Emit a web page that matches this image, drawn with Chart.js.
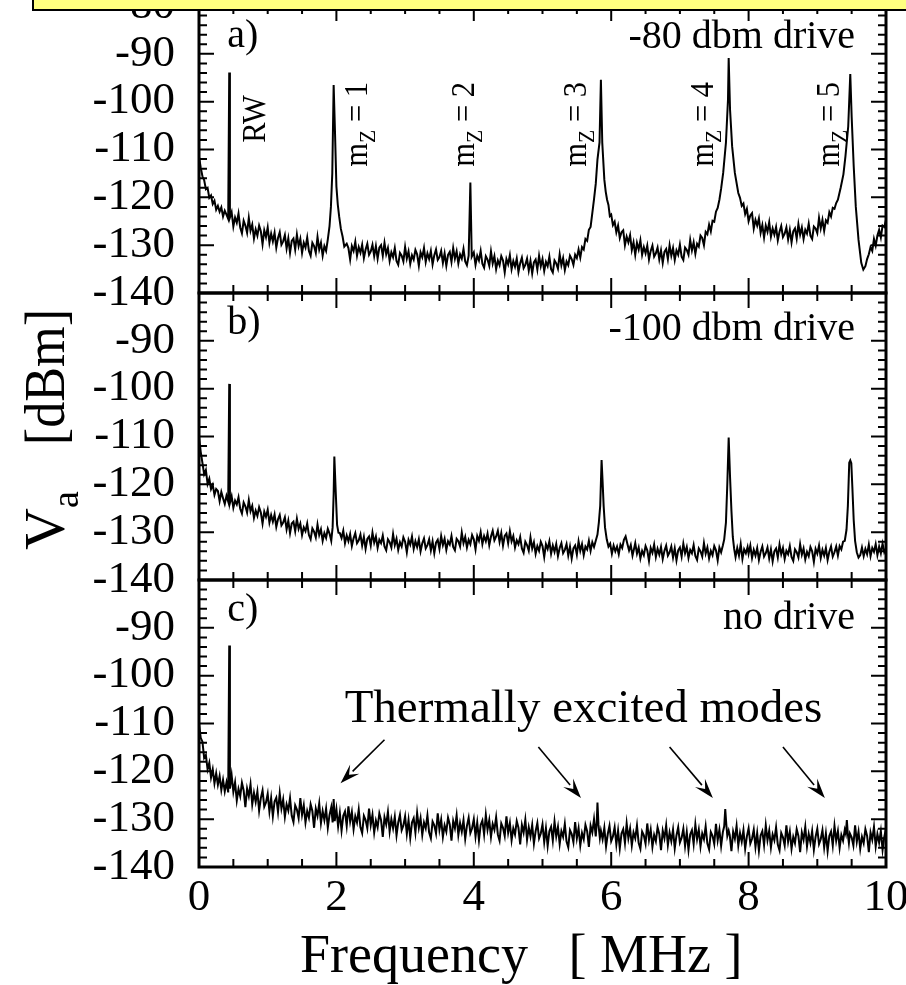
<!DOCTYPE html>
<html><head><meta charset="utf-8">
<script src="https://cdn.jsdelivr.net/npm/chart.js@4/dist/chart.umd.min.js"></script>
<style>
html,body{margin:0;padding:0;background:#fff;overflow:hidden;}
canvas{display:block;}
</style></head><body>
<canvas id="c" width="906" height="985"></canvas>
<script>
// ---------------- data (frequency MHz, level dBm) ----------------
const specA = [
[0.000,-111.5],[0.025,-113.8],[0.050,-115.6],[0.075,-116.4],[0.100,-118.3],[0.125,-118.0],[0.150,-120.1],[0.175,-119.6],
[0.200,-121.4],[0.225,-120.7],[0.250,-122.6],[0.275,-121.8],[0.300,-123.0],[0.325,-122.1],[0.350,-124.0],[0.375,-122.8],
[0.400,-123.6],[0.425,-124.5],[0.440,-93.9],[0.450,-124.2],[0.475,-123.1],[0.500,-126.1],[0.525,-124.2],[0.550,-125.3],
[0.575,-123.4],[0.600,-126.3],[0.625,-127.5],[0.650,-124.9],[0.675,-125.9],[0.700,-127.4],[0.725,-124.3],[0.750,-127.0],
[0.775,-125.7],[0.800,-128.6],[0.825,-126.7],[0.850,-128.0],[0.875,-125.9],[0.900,-127.1],[0.925,-129.8],[0.950,-126.9],
[0.975,-128.3],[1.000,-126.3],[1.025,-129.5],[1.050,-127.6],[1.075,-129.2],[1.100,-127.4],[1.125,-130.5],[1.150,-128.5],
[1.175,-127.3],[1.200,-129.9],[1.225,-129.2],[1.250,-127.9],[1.275,-130.7],[1.300,-128.6],[1.325,-131.6],[1.350,-129.1],
[1.375,-128.6],[1.400,-130.9],[1.425,-127.8],[1.450,-130.2],[1.475,-128.7],[1.500,-131.6],[1.525,-129.5],[1.550,-130.5],
[1.575,-128.4],[1.600,-131.2],[1.625,-132.2],[1.650,-129.5],[1.675,-130.2],[1.700,-131.6],[1.725,-128.3],[1.750,-130.9],
[1.775,-129.5],[1.800,-132.2],[1.825,-130.2],[1.850,-131.2],[1.875,-128.8],[1.900,-126.0],[1.920,-122.0],[1.940,-115.0],
[1.960,-96.5],[1.980,-106.6],[2.000,-117.7],[2.020,-121.5],[2.040,-124.0],[2.065,-126.6],[2.090,-128.2],[2.115,-130.3],
[2.150,-129.7],[2.175,-130.6],[2.200,-133.0],[2.225,-130.2],[2.250,-131.2],[2.275,-129.3],[2.300,-132.2],[2.325,-130.4],
[2.350,-131.6],[2.375,-129.9],[2.400,-132.7],[2.425,-130.9],[2.450,-129.7],[2.475,-132.0],[2.500,-131.3],[2.525,-129.9],
[2.550,-132.3],[2.575,-130.2],[2.600,-132.8],[2.625,-130.5],[2.650,-130.0],[2.675,-132.2],[2.700,-129.5],[2.725,-131.9],
[2.750,-130.6],[2.775,-133.3],[2.800,-131.5],[2.825,-132.5],[2.850,-130.6],[2.875,-133.3],[2.900,-134.1],[2.925,-131.6],
[2.950,-132.2],[2.975,-133.4],[3.000,-130.4],[3.025,-132.8],[3.050,-131.3],[3.075,-133.9],[3.100,-132.1],[3.125,-133.0],
[3.150,-131.0],[3.175,-131.9],[3.200,-134.3],[3.225,-131.5],[3.250,-132.5],[3.275,-130.6],[3.300,-133.5],[3.325,-131.7],
[3.350,-132.9],[3.375,-131.2],[3.400,-134.0],[3.425,-132.1],[3.450,-130.9],[3.475,-133.1],[3.500,-132.5],[3.525,-131.2],
[3.550,-133.7],[3.575,-131.7],[3.600,-134.3],[3.625,-132.0],[3.650,-131.4],[3.675,-133.5],[3.700,-130.6],[3.725,-132.8],
[3.750,-131.3],[3.775,-133.8],[3.800,-131.9],[3.825,-132.8],[3.850,-130.8],[3.875,-133.4],[3.900,-134.2],[3.925,-132.2],
[3.950,-116.9],[3.970,-132.4],[4.000,-131.5],[4.025,-134.1],[4.050,-132.2],[4.075,-133.2],[4.100,-131.2],[4.125,-133.9],
[4.150,-134.7],[4.175,-132.3],[4.200,-133.0],[4.225,-134.3],[4.250,-131.3],[4.275,-133.8],[4.300,-132.3],[4.325,-135.0],
[4.350,-133.2],[4.375,-134.2],[4.400,-132.3],[4.425,-133.2],[4.450,-135.7],[4.475,-132.9],[4.500,-134.0],[4.525,-132.1],
[4.550,-135.0],[4.575,-133.3],[4.600,-134.5],[4.625,-132.8],[4.650,-135.6],[4.675,-133.8],[4.700,-132.6],[4.725,-134.8],
[4.750,-134.1],[4.775,-132.8],[4.800,-135.3],[4.825,-133.3],[4.850,-135.9],[4.875,-133.6],[4.900,-133.0],[4.925,-135.1],
[4.950,-132.2],[4.975,-134.4],[5.000,-132.9],[5.025,-135.4],[5.050,-133.5],[5.075,-134.4],[5.100,-132.4],[5.125,-135.0],
[5.150,-135.7],[5.175,-133.2],[5.200,-133.8],[5.225,-134.9],[5.250,-131.9],[5.275,-134.2],[5.300,-132.7],[5.325,-135.2],
[5.350,-133.4],[5.375,-134.2],[5.400,-132.2],[5.425,-132.9],[5.450,-134.1],[5.475,-132.0],[5.500,-132.7],[5.525,-130.9],
[5.550,-132.6],[5.575,-130.4],[5.600,-130.9],[5.625,-128.7],[5.650,-129.1],[5.675,-126.8],[5.700,-126.2],[5.725,-123.3],
[5.750,-120.4],[5.775,-117.2],[5.800,-112.1],[5.830,-108.5],[5.850,-95.4],[5.870,-108.6],[5.900,-116.3],[5.920,-118.8],
[5.940,-120.5],[5.960,-121.6],[5.980,-123.9],[6.000,-123.6],[6.025,-125.8],[6.050,-125.1],[6.075,-127.3],[6.100,-125.9],
[6.125,-128.5],[6.150,-127.3],[6.175,-126.9],[6.200,-130.0],[6.225,-128.2],[6.250,-129.4],[6.275,-127.9],[6.300,-131.0],
[6.325,-129.4],[6.350,-132.0],[6.375,-129.5],[6.400,-130.9],[6.425,-129.0],[6.450,-132.0],[6.475,-130.4],[6.500,-131.7],
[6.525,-130.1],[6.550,-133.0],[6.575,-131.2],[6.600,-130.1],[6.625,-132.4],[6.650,-131.7],[6.675,-130.5],[6.700,-133.0],
[6.725,-131.1],[6.750,-133.7],[6.775,-131.4],[6.800,-130.8],[6.825,-132.9],[6.850,-130.0],[6.875,-132.2],[6.900,-130.6],
[6.925,-133.1],[6.950,-131.1],[6.975,-132.0],[7.000,-129.9],[7.025,-132.4],[7.050,-133.1],[7.075,-130.5],[7.100,-131.0],
[7.125,-132.0],[7.150,-128.9],[7.175,-131.1],[7.200,-129.4],[7.225,-131.8],[7.250,-129.7],[7.275,-130.3],[7.300,-128.0],
[7.325,-128.5],[7.350,-130.0],[7.375,-127.2],[7.400,-127.7],[7.425,-125.7],[7.450,-127.1],[7.475,-124.9],[7.500,-125.1],
[7.525,-123.0],[7.550,-122.2],[7.575,-120.5],[7.600,-118.2],[7.630,-114.9],[7.670,-108.6],[7.700,-99.6],[7.710,-90.9],
[7.730,-101.7],[7.760,-109.3],[7.800,-114.9],[7.850,-119.1],[7.875,-120.1],[7.900,-121.8],[7.925,-121.3],[7.950,-123.5],
[7.975,-122.4],[8.000,-125.0],[8.025,-123.8],[8.050,-123.3],[8.075,-126.5],[8.100,-124.7],[8.125,-125.9],[8.150,-124.4],
[8.175,-127.4],[8.200,-125.8],[8.225,-128.4],[8.250,-125.9],[8.275,-127.2],[8.300,-125.2],[8.325,-128.2],[8.350,-126.5],
[8.375,-127.8],[8.400,-126.2],[8.425,-129.0],[8.450,-127.2],[8.475,-126.0],[8.500,-128.3],[8.525,-127.6],[8.550,-126.3],
[8.575,-128.8],[8.600,-126.8],[8.625,-129.4],[8.650,-127.1],[8.675,-126.5],[8.700,-128.6],[8.725,-125.6],[8.750,-127.8],
[8.775,-126.3],[8.800,-128.7],[8.825,-126.8],[8.850,-127.6],[8.875,-125.5],[8.900,-128.0],[8.925,-128.7],[8.950,-126.1],
[8.975,-126.5],[9.000,-127.5],[9.025,-124.3],[9.050,-126.5],[9.075,-124.7],[9.100,-127.0],[9.125,-124.8],[9.150,-125.3],
[9.175,-123.1],[9.200,-124.0],[9.225,-122.2],[9.250,-122.4],[9.275,-121.2],[9.300,-120.5],[9.340,-118.0],[9.380,-115.2],
[9.410,-111.4],[9.450,-105.2],[9.480,-94.2],[9.500,-103.1],[9.530,-113.5],[9.560,-121.9],[9.600,-128.9],[9.640,-133.7],
[9.670,-135.1],[9.700,-134.4],[9.725,-132.9],[9.750,-131.9],[9.775,-130.4],[9.800,-131.2],[9.825,-128.7],[9.850,-130.1],
[9.875,-128.0],[9.900,-126.8],[9.925,-128.4],[9.950,-125.9],[9.975,-126.2],[10.000,-124.7]
];
const specB = [
[0.000,-110.0],[0.025,-113.2],[0.050,-115.5],[0.075,-117.9],[0.100,-117.0],[0.125,-119.9],[0.150,-118.8],[0.175,-121.0],
[0.200,-120.1],[0.225,-122.2],[0.250,-121.0],[0.275,-121.4],[0.300,-123.5],[0.325,-121.6],[0.350,-122.9],[0.375,-124.1],
[0.400,-122.4],[0.425,-123.6],[0.440,-99.0],[0.450,-123.9],[0.475,-122.5],[0.500,-124.9],[0.525,-123.4],[0.550,-124.2],
[0.575,-122.7],[0.600,-125.1],[0.625,-126.1],[0.650,-123.8],[0.675,-124.6],[0.700,-125.9],[0.725,-123.3],[0.750,-125.6],
[0.775,-124.5],[0.800,-127.0],[0.825,-125.5],[0.850,-126.6],[0.875,-124.8],[0.900,-125.9],[0.925,-128.2],[0.950,-125.7],
[0.975,-126.8],[1.000,-125.3],[1.025,-128.0],[1.050,-126.4],[1.075,-127.8],[1.100,-126.3],[1.125,-128.9],[1.150,-127.3],
[1.175,-126.4],[1.200,-128.6],[1.225,-128.0],[1.250,-126.9],[1.275,-129.4],[1.300,-127.6],[1.325,-130.2],[1.350,-128.2],
[1.375,-127.8],[1.400,-129.8],[1.425,-127.2],[1.450,-129.3],[1.475,-128.2],[1.500,-130.6],[1.525,-129.0],[1.550,-129.8],
[1.575,-128.2],[1.600,-130.6],[1.625,-131.5],[1.650,-129.2],[1.675,-129.9],[1.700,-131.1],[1.725,-128.4],[1.750,-130.6],
[1.775,-129.4],[1.800,-131.8],[1.825,-130.2],[1.850,-131.2],[1.875,-129.3],[1.900,-130.3],[1.925,-131.8],[1.945,-129.0],
[1.960,-122.0],[1.970,-114.2],[1.990,-121.5],[2.010,-128.5],[2.030,-130.1],[2.050,-130.2],[2.075,-131.2],[2.100,-129.7],
[2.125,-132.3],[2.150,-130.7],[2.175,-131.9],[2.200,-130.4],[2.225,-132.9],[2.250,-131.3],[2.275,-130.2],[2.300,-132.3],
[2.325,-131.7],[2.350,-130.5],[2.375,-132.8],[2.400,-131.0],[2.425,-133.5],[2.450,-131.4],[2.475,-130.9],[2.500,-132.8],
[2.525,-130.1],[2.550,-132.2],[2.575,-130.9],[2.600,-133.3],[2.625,-131.6],[2.650,-132.3],[2.675,-130.7],[2.700,-133.0],
[2.725,-133.8],[2.750,-131.5],[2.775,-132.1],[2.800,-133.2],[2.825,-130.4],[2.850,-132.7],[2.875,-131.4],[2.900,-133.7],
[2.925,-132.1],[2.950,-133.0],[2.975,-131.1],[3.000,-132.0],[3.025,-134.2],[3.050,-131.6],[3.075,-132.6],[3.100,-130.9],
[3.125,-133.5],[3.150,-131.9],[3.175,-133.1],[3.200,-131.5],[3.225,-134.0],[3.250,-132.3],[3.275,-131.3],[3.300,-133.4],
[3.325,-132.7],[3.350,-131.5],[3.375,-133.8],[3.400,-131.9],[3.425,-134.4],[3.450,-132.2],[3.475,-131.6],[3.500,-133.5],
[3.525,-130.8],[3.550,-132.7],[3.575,-131.4],[3.600,-133.7],[3.625,-131.9],[3.650,-132.6],[3.675,-130.8],[3.700,-133.1],
[3.725,-133.8],[3.750,-131.4],[3.775,-131.9],[3.800,-133.0],[3.825,-130.1],[3.850,-132.3],[3.875,-131.0],[3.900,-133.2],
[3.925,-131.6],[3.950,-132.5],[3.975,-130.6],[4.000,-131.5],[4.025,-133.6],[4.050,-130.8],[4.075,-131.8],[4.100,-130.0],
[4.125,-132.5],[4.150,-130.8],[4.175,-131.9],[4.200,-130.3],[4.225,-132.7],[4.250,-130.9],[4.275,-129.7],[4.300,-131.7],
[4.325,-130.9],[4.350,-129.7],[4.375,-132.0],[4.400,-130.2],[4.425,-132.8],[4.450,-130.8],[4.475,-130.3],[4.500,-132.3],
[4.525,-129.8],[4.550,-131.9],[4.575,-130.8],[4.600,-133.2],[4.625,-131.7],[4.650,-132.5],[4.675,-131.0],[4.700,-133.4],
[4.725,-134.3],[4.750,-132.0],[4.775,-132.7],[4.800,-133.9],[4.825,-131.1],[4.850,-133.4],[4.875,-132.1],[4.900,-134.5],
[4.925,-132.9],[4.950,-133.9],[4.975,-132.0],[5.000,-132.9],[5.025,-135.2],[5.050,-132.5],[5.075,-133.5],[5.100,-131.9],
[5.125,-134.5],[5.150,-132.8],[5.175,-134.1],[5.200,-132.5],[5.225,-135.0],[5.250,-133.3],[5.275,-132.3],[5.300,-134.4],
[5.325,-133.7],[5.350,-132.5],[5.375,-134.9],[5.400,-133.0],[5.425,-135.5],[5.450,-133.4],[5.475,-132.8],[5.500,-134.7],
[5.525,-131.9],[5.550,-133.9],[5.575,-132.5],[5.600,-134.8],[5.625,-133.0],[5.650,-133.6],[5.675,-131.8],[5.700,-133.9],
[5.725,-132.1],[5.750,-133.1],[5.775,-131.8],[5.800,-130.5],[5.820,-128.0],[5.840,-124.5],[5.860,-114.9],[5.875,-119.5],
[5.890,-124.5],[5.910,-129.0],[5.935,-131.5],[5.960,-133.0],[5.985,-132.4],[6.010,-134.5],[6.035,-132.8],[6.060,-134.0],
[6.085,-133.0],[6.110,-134.6],[6.135,-132.6],[6.160,-133.3],[6.185,-131.6],[6.210,-130.9],[6.235,-132.4],[6.260,-133.8],
[6.285,-132.7],[6.310,-134.9],[6.335,-133.3],[6.350,-132.3],[6.375,-134.5],[6.400,-133.2],[6.425,-135.5],[6.450,-133.9],
[6.475,-134.8],[6.500,-132.9],[6.525,-133.8],[6.550,-136.0],[6.575,-133.3],[6.600,-134.3],[6.625,-132.6],[6.650,-135.2],
[6.675,-133.5],[6.700,-134.7],[6.725,-133.1],[6.750,-135.6],[6.775,-133.9],[6.800,-132.8],[6.825,-134.9],[6.850,-134.2],
[6.875,-133.0],[6.900,-135.3],[6.925,-133.4],[6.950,-135.9],[6.975,-133.8],[7.000,-133.2],[7.025,-135.1],[7.050,-132.4],
[7.075,-134.4],[7.100,-133.1],[7.125,-135.4],[7.150,-133.7],[7.175,-134.4],[7.200,-132.7],[7.225,-135.0],[7.250,-135.8],
[7.275,-133.4],[7.300,-134.0],[7.325,-135.1],[7.350,-132.3],[7.375,-134.5],[7.400,-133.2],[7.425,-135.5],[7.450,-133.9],
[7.475,-134.8],[7.500,-132.9],[7.525,-133.8],[7.550,-135.9],[7.575,-133.2],[7.600,-134.2],[7.625,-132.8],[7.645,-131.5],
[7.670,-128.0],[7.690,-120.0],[7.710,-110.2],[7.730,-118.5],[7.750,-125.5],[7.770,-131.0],[7.790,-133.5],[7.810,-135.2],
[7.835,-133.3],[7.860,-134.9],[7.885,-132.5],[7.910,-135.6],[7.935,-133.6],[7.960,-134.4],[7.985,-133.1],[8.000,-134.5],
[8.025,-132.8],[8.050,-135.4],[8.075,-133.7],[8.100,-134.9],[8.125,-133.3],[8.150,-135.8],[8.175,-134.1],[8.200,-133.0],
[8.225,-135.1],[8.250,-134.4],[8.275,-133.2],[8.300,-135.5],[8.325,-133.6],[8.350,-136.1],[8.375,-134.0],[8.400,-133.4],
[8.425,-135.3],[8.450,-132.6],[8.475,-134.6],[8.500,-133.3],[8.525,-135.6],[8.550,-133.9],[8.575,-134.6],[8.600,-132.9],
[8.625,-135.2],[8.650,-136.0],[8.675,-133.6],[8.700,-134.2],[8.725,-135.3],[8.750,-132.5],[8.775,-134.7],[8.800,-133.4],
[8.825,-135.7],[8.850,-134.1],[8.875,-135.0],[8.900,-133.1],[8.925,-134.0],[8.950,-136.2],[8.975,-133.5],[9.000,-134.5],
[9.025,-132.8],[9.050,-135.4],[9.075,-133.7],[9.100,-134.9],[9.125,-133.3],[9.150,-135.8],[9.175,-134.1],[9.200,-133.0],
[9.225,-135.1],[9.250,-134.2],[9.275,-133.0],[9.300,-134.9],[9.325,-132.9],[9.350,-133.6],[9.375,-132.0],[9.400,-131.8],
[9.425,-129.5],[9.445,-124.5],[9.465,-115.5],[9.480,-115.0],[9.495,-115.6],[9.510,-120.5],[9.530,-127.5],[9.550,-131.8],
[9.575,-134.2],[9.600,-135.3],[9.625,-134.8],[9.650,-133.2],[9.675,-135.0],[9.700,-133.5],[9.725,-134.6],[9.750,-132.6],
[9.775,-135.0],[9.800,-133.3],[9.825,-134.1],[9.850,-132.5],[9.875,-134.8],[9.900,-133.0],[9.925,-134.4],[9.950,-132.4],
[9.975,-134.2],[10.000,-133.4]
];
const specC = [
[0.000,-110.0],[0.025,-113.0],[0.050,-113.8],[0.075,-117.2],[0.100,-116.6],[0.125,-119.6],[0.150,-118.2],[0.175,-121.3],
[0.200,-119.6],[0.225,-122.5],[0.250,-120.4],[0.275,-122.8],[0.300,-121.0],[0.325,-123.9],[0.350,-121.8],[0.375,-124.2],
[0.400,-122.3],[0.425,-124.4],[0.440,-93.7],[0.450,-123.6],[0.475,-120.8],[0.500,-124.3],[0.525,-122.3],[0.550,-126.1],
[0.575,-123.7],[0.600,-125.2],[0.625,-122.4],[0.650,-124.0],[0.675,-127.5],[0.700,-123.6],[0.725,-125.2],[0.750,-122.7],
[0.775,-126.9],[0.800,-124.5],[0.825,-126.4],[0.850,-124.2],[0.875,-128.2],[0.900,-125.6],[0.925,-124.0],[0.950,-127.4],
[0.975,-126.5],[1.000,-124.7],[1.025,-128.4],[1.050,-125.6],[1.075,-129.4],[1.100,-126.3],[1.125,-125.5],[1.150,-128.5],
[1.175,-124.6],[1.200,-127.8],[1.225,-125.9],[1.250,-129.5],[1.275,-126.9],[1.300,-128.2],[1.325,-125.6],[1.350,-129.3],
[1.375,-130.6],[1.400,-127.1],[1.425,-128.0],[1.450,-129.8],[1.475,-125.6],[1.500,-129.1],[1.525,-127.1],[1.550,-130.7],
[1.575,-128.3],[1.600,-129.7],[1.625,-126.9],[1.650,-128.3],[1.675,-131.8],[1.700,-127.8],[1.725,-129.3],[1.750,-126.7],
[1.775,-130.8],[1.800,-128.3],[1.825,-130.2],[1.850,-127.8],[1.875,-131.8],[1.900,-129.1],[1.925,-127.5],[1.945,-130.7],
[1.960,-125.8],[1.975,-130.4],[2.000,-127.9],[2.025,-131.5],[2.050,-128.7],[2.075,-132.4],[2.100,-129.3],[2.125,-128.4],
[2.150,-131.4],[2.175,-127.3],[2.200,-130.5],[2.225,-128.5],[2.250,-132.1],[2.275,-129.4],[2.300,-130.7],[2.325,-128.0],
[2.350,-131.7],[2.375,-132.9],[2.400,-129.3],[2.425,-130.2],[2.450,-131.9],[2.475,-127.8],[2.500,-131.2],[2.525,-129.1],
[2.550,-132.8],[2.575,-130.3],[2.600,-131.7],[2.625,-128.8],[2.650,-130.2],[2.675,-133.7],[2.700,-129.6],[2.725,-131.1],
[2.750,-128.5],[2.775,-132.6],[2.800,-130.0],[2.825,-131.9],[2.850,-129.5],[2.875,-133.4],[2.900,-130.7],[2.925,-129.1],
[2.950,-132.3],[2.975,-131.3],[3.000,-129.4],[3.025,-133.1],[3.050,-130.2],[3.075,-133.9],[3.100,-130.7],[3.125,-129.8],
[3.150,-132.8],[3.175,-128.7],[3.200,-131.8],[3.225,-129.8],[3.250,-133.3],[3.275,-130.7],[3.300,-131.9],[3.325,-129.2],
[3.350,-132.8],[3.375,-134.0],[3.400,-130.5],[3.425,-131.3],[3.450,-133.0],[3.475,-128.8],[3.500,-132.2],[3.525,-130.1],
[3.550,-133.7],[3.575,-131.3],[3.600,-132.6],[3.625,-129.7],[3.650,-131.1],[3.675,-134.5],[3.700,-130.4],[3.725,-131.9],
[3.750,-129.2],[3.775,-133.3],[3.800,-130.8],[3.825,-132.6],[3.850,-130.2],[3.875,-134.1],[3.900,-131.4],[3.925,-129.7],
[3.950,-132.9],[3.975,-131.9],[4.000,-130.0],[4.025,-133.6],[4.050,-130.7],[4.075,-134.4],[4.100,-131.2],[4.125,-130.3],
[4.150,-133.2],[4.175,-129.1],[4.200,-132.2],[4.225,-130.2],[4.250,-133.7],[4.275,-131.0],[4.300,-132.2],[4.325,-129.6],
[4.350,-133.2],[4.375,-134.5],[4.400,-130.9],[4.425,-131.8],[4.450,-133.5],[4.475,-129.4],[4.500,-132.8],[4.525,-130.8],
[4.550,-134.4],[4.575,-131.9],[4.600,-133.2],[4.625,-130.4],[4.650,-131.8],[4.675,-135.3],[4.700,-131.2],[4.725,-132.8],
[4.750,-130.1],[4.775,-134.3],[4.800,-131.7],[4.825,-133.6],[4.850,-131.2],[4.875,-135.1],[4.900,-132.5],[4.925,-130.8],
[4.950,-134.0],[4.975,-133.0],[5.000,-131.1],[5.025,-134.8],[5.050,-131.9],[5.075,-135.6],[5.100,-132.5],[5.125,-131.6],
[5.150,-134.5],[5.175,-130.5],[5.200,-133.6],[5.225,-131.6],[5.250,-135.2],[5.275,-132.5],[5.300,-133.7],[5.325,-131.0],
[5.350,-134.7],[5.375,-135.9],[5.400,-132.3],[5.425,-133.1],[5.450,-134.8],[5.475,-130.6],[5.500,-134.0],[5.525,-131.9],
[5.550,-135.5],[5.575,-132.9],[5.600,-134.2],[5.625,-131.2],[5.650,-132.5],[5.675,-135.8],[5.700,-131.4],[5.725,-132.8],
[5.750,-130.0],[5.775,-133.6],[5.790,-130.5],[5.800,-126.5],[5.815,-131.2],[5.835,-133.9],[5.850,-132.4],[5.875,-134.2],
[5.900,-131.8],[5.925,-135.7],[5.950,-133.1],[5.975,-131.4],[6.000,-134.6],[6.025,-133.6],[6.050,-131.7],[6.075,-135.3],
[6.100,-132.4],[6.125,-136.1],[6.150,-133.0],[6.175,-132.1],[6.200,-135.0],[6.225,-130.9],[6.250,-134.0],[6.275,-132.0],
[6.300,-135.5],[6.325,-132.8],[6.350,-134.0],[6.375,-131.3],[6.400,-135.0],[6.425,-136.2],[6.450,-132.6],[6.475,-133.4],
[6.500,-135.1],[6.525,-130.9],[6.550,-134.3],[6.575,-132.2],[6.600,-135.8],[6.625,-133.3],[6.650,-134.6],[6.675,-131.7],
[6.700,-133.1],[6.725,-136.5],[6.750,-132.4],[6.775,-134.0],[6.800,-131.3],[6.825,-135.4],[6.850,-132.8],[6.875,-134.6],
[6.900,-132.2],[6.925,-136.1],[6.950,-133.4],[6.975,-131.7],[7.000,-134.9],[7.025,-133.9],[7.050,-132.0],[7.075,-135.6],
[7.100,-132.7],[7.125,-136.4],[7.150,-133.2],[7.175,-132.3],[7.200,-135.2],[7.225,-131.1],[7.250,-134.2],[7.275,-132.2],
[7.300,-135.7],[7.325,-133.0],[7.350,-134.2],[7.375,-131.5],[7.400,-135.1],[7.425,-136.3],[7.450,-132.7],[7.475,-133.5],
[7.500,-135.2],[7.525,-131.0],[7.550,-134.4],[7.575,-132.2],[7.600,-135.6],[7.625,-132.7],[7.645,-131.5],[7.660,-127.9],
[7.675,-131.0],[7.690,-133.5],[7.710,-132.4],[7.725,-133.3],[7.750,-136.7],[7.775,-132.6],[7.800,-134.1],[7.825,-131.4],
[7.850,-135.5],[7.875,-132.9],[7.900,-134.7],[7.925,-132.3],[7.950,-136.2],[7.975,-133.6],[8.000,-131.9],[8.025,-135.1],
[8.050,-134.1],[8.075,-132.2],[8.100,-135.8],[8.125,-132.9],[8.150,-136.6],[8.175,-133.4],[8.200,-132.5],[8.225,-135.4],
[8.250,-131.3],[8.275,-134.4],[8.300,-132.4],[8.325,-135.9],[8.350,-133.2],[8.375,-134.4],[8.400,-131.7],[8.425,-135.3],
[8.450,-136.5],[8.475,-132.9],[8.500,-133.8],[8.525,-135.5],[8.550,-131.3],[8.575,-134.7],[8.600,-132.6],[8.625,-136.2],
[8.650,-133.7],[8.675,-135.0],[8.700,-132.1],[8.725,-133.5],[8.750,-136.9],[8.775,-132.8],[8.800,-134.3],[8.825,-131.6],
[8.850,-135.7],[8.875,-133.1],[8.900,-134.9],[8.925,-132.5],[8.950,-136.4],[8.975,-133.7],[9.000,-132.0],[9.025,-135.2],
[9.050,-134.2],[9.075,-132.3],[9.100,-135.9],[9.125,-133.0],[9.150,-136.7],[9.175,-133.5],[9.200,-132.6],[9.225,-135.5],
[9.250,-131.4],[9.275,-134.5],[9.300,-132.5],[9.325,-136.0],[9.350,-133.3],[9.375,-134.5],[9.400,-132.2],[9.415,-133.0],
[9.430,-130.2],[9.445,-133.2],[9.460,-135.0],[9.475,-133.0],[9.500,-133.8],[9.525,-135.5],[9.550,-131.3],[9.575,-134.7],
[9.600,-132.6],[9.625,-136.2],[9.650,-133.7],[9.675,-135.0],[9.700,-132.1],[9.725,-133.5],[9.750,-136.9],[9.775,-132.8],
[9.800,-134.3],[9.825,-131.6],[9.850,-135.7],[9.875,-133.1],[9.900,-134.9],[9.925,-132.5],[9.950,-136.4],[9.975,-133.7],
[10.000,-132.0]
];

// ---------------- axes / ticks ----------------
const xMajorTicks = [0, 2, 4, 6, 8, 10];
const xMinorTicks = [0.5, 1, 1.5, 2.5, 3, 3.5, 4.5, 5, 5.5, 6.5, 7, 7.5, 8.5, 9, 9.5];
const yMajorTicks = [-80, -90, -100, -110, -120, -130, -140];
const yMinorTicks = [-82, -84, -86, -88, -92, -94, -96, -98, -102, -104, -106, -108, -112, -114, -116, -118,
                     -122, -124, -126, -128, -132, -134, -136, -138];

// ---------------- annotation texts (data coords: MHz, dBm) ----------------
const panelTags = ['a)', 'b)', 'c)'];
const driveLabels = ['-80 dbm drive', '-100 dbm drive', 'no drive'];
const driveLabelLevels = [-88.8, -89.8, -90.2];
const peakLabels = [
  {pre: 'RW', sub: '', post: '', f: 0.96, v: -108.6},
  {pre: 'm', sub: 'Z', post: ' = 1', f: 2.44, v: -113.6},
  {pre: 'm', sub: 'Z', post: ' = 2', f: 4.00, v: -113.6},
  {pre: 'm', sub: 'Z', post: ' = 3', f: 5.63, v: -113.6},
  {pre: 'm', sub: 'Z', post: ' = 4', f: 7.48, v: -113.6},
  {pre: 'm', sub: 'Z', post: ' = 5', f: 9.32, v: -113.6}
];
const thermalText = 'Thermally excited modes';
const thermalPos = [2.12, -109.7];
const arrowTails = [[2.70, -113.4], [4.94, -114.9], [6.85, -114.9], [8.50, -114.9]];
const arrowHeads = [[2.06, -122.5], [5.56, -125.6], [7.48, -125.6], [9.11, -125.6]];

const FONT = "'Liberation Serif', 'Times New Roman', Times, serif";

function yAxis(hideTop) {
  return {
    type: 'linear', position: 'left', stack: 'panels', min: -140, max: -80,
    grid: {display: false, drawTicks: false}, border: {display: false},
    ticks: {stepSize: 10, autoSkip: false, padding: 24, color: '#000',
      font: {family: FONT, size: 45},
      callback: v => (hideTop && v === -80) ? '' : String(v)},
    afterFit: s => { s.width = 199; s.paddingTop = 0; s.paddingBottom = 0; s.paddingLeft = 0; s.paddingRight = 0; }
  };
}

const decorPlugin = {
  id: 'decor',
  afterDraw(chart) {
    const ctx = chart.ctx;
    const xs = chart.scales.x;
    const panels = [chart.scales.yA, chart.scales.yB, chart.scales.yC];
    const L = xs.getPixelForValue(0), R = xs.getPixelForValue(10);
    ctx.save();
    ctx.strokeStyle = '#000';
    ctx.fillStyle = '#000';
    ctx.lineWidth = 2;
    panels.forEach(ys => {
      const T = ys.getPixelForValue(-80), B = ys.getPixelForValue(-140);
      const xt = (f, len) => {
        const px = xs.getPixelForValue(f);
        ctx.beginPath(); ctx.moveTo(px, B); ctx.lineTo(px, B - len);
        ctx.moveTo(px, T); ctx.lineTo(px, T + len); ctx.stroke();
      };
      const yt = (v, len) => {
        const py = ys.getPixelForValue(v);
        ctx.beginPath(); ctx.moveTo(L, py); ctx.lineTo(L + len, py);
        ctx.moveTo(R, py); ctx.lineTo(R - len, py); ctx.stroke();
      };
      xMajorTicks.forEach(f => xt(f, 15));
      xMinorTicks.forEach(f => xt(f, 8));
      yMajorTicks.forEach(v => yt(v, 15));
      yMinorTicks.forEach(v => yt(v, 8));
    });
    ctx.lineWidth = 3;
    panels.forEach(ys => {
      const T = ys.getPixelForValue(-80), B = ys.getPixelForValue(-140);
      ctx.strokeRect(L, T, R - L, B - T);
    });
    ctx.textBaseline = 'alphabetic';
    panels.forEach((ys, i) => {
      ctx.font = `40px ${FONT}`;
      ctx.textAlign = 'left';
      ctx.fillText(panelTags[i], xs.getPixelForValue(0.41), ys.getPixelForValue(-88.5));
      ctx.textAlign = 'right';
      ctx.fillText(driveLabels[i], xs.getPixelForValue(9.55), ys.getPixelForValue(driveLabelLevels[i]));
    });
    ctx.textAlign = 'left';
    peakLabels.forEach(p => {
      ctx.save();
      ctx.translate(xs.getPixelForValue(p.f), chart.scales.yA.getPixelForValue(p.v));
      ctx.rotate(-Math.PI / 2);
      ctx.scale(0.9, 1);
      let cx = 0;
      ctx.font = `34px ${FONT}`;
      ctx.fillText(p.pre, cx, 0); cx += ctx.measureText(p.pre).width;
      if (p.sub) {
        ctx.font = `24px ${FONT}`;
        ctx.fillText(p.sub, cx, 8); cx += ctx.measureText(p.sub).width;
      }
      ctx.font = `34px ${FONT}`;
      ctx.fillText(p.post, cx, 0);
      ctx.restore();
    });
    const yc = chart.scales.yC;
    ctx.font = `47px ${FONT}`;
    ctx.fillText(thermalText, xs.getPixelForValue(thermalPos[0]), yc.getPixelForValue(thermalPos[1]));
    ctx.lineWidth = 1.6;
    arrowTails.forEach((t, i) => {
      const x0 = xs.getPixelForValue(t[0]), y0 = yc.getPixelForValue(t[1]);
      const x1 = xs.getPixelForValue(arrowHeads[i][0]), y1 = yc.getPixelForValue(arrowHeads[i][1]);
      const ang = Math.atan2(y1 - y0, x1 - x0);
      const hl = 17, hw = 6.5;
      const bx = x1 - hl * Math.cos(ang), by = y1 - hl * Math.sin(ang);
      ctx.beginPath(); ctx.moveTo(x0, y0); ctx.lineTo(bx, by); ctx.stroke();
      ctx.beginPath();
      ctx.moveTo(x1, y1);
      ctx.lineTo(bx - hw * Math.sin(ang) - 3 * Math.cos(ang), by + hw * Math.cos(ang) - 3 * Math.sin(ang));
      ctx.lineTo(x1 - (hl - 5) * Math.cos(ang), y1 - (hl - 5) * Math.sin(ang));
      ctx.lineTo(bx + hw * Math.sin(ang) - 3 * Math.cos(ang), by - hw * Math.cos(ang) - 3 * Math.sin(ang));
      ctx.closePath(); ctx.fill();
    });
    ctx.font = `54px ${FONT}`;
    ctx.textAlign = 'left';
    ctx.fillText('Frequency   [ MHz ]', 300, 972);
    // rotated y-axis title
    ctx.save();
    ctx.translate(64, 550);
    ctx.rotate(-Math.PI / 2);
    ctx.font = `58px ${FONT}`;
    ctx.fillText('V', 0, 0);
    let w = ctx.measureText('V').width;
    ctx.font = `38px ${FONT}`;
    ctx.fillText('a', w, 14);
    w += ctx.measureText('a').width + 46;
    ctx.translate(w, 0);
    ctx.scale(0.9, 1);
    ctx.font = `58px ${FONT}`;
    ctx.fillText('[dBm]', 0, 0);
    ctx.restore();
    // cut-off caption box at the top edge
    ctx.fillStyle = '#ffff80';
    ctx.fillRect(33, -20, 900, 30);
    ctx.lineWidth = 2;
    ctx.strokeRect(33, -20, 900, 30);
    ctx.restore();
  }
};

const lineStyle = {borderColor: '#000', borderWidth: 2, pointRadius: 0, tension: 0, fill: false};

new Chart(document.getElementById('c'), {
  type: 'line',
  data: {
    datasets: [
      Object.assign({label: 'a', data: specA, yAxisID: 'yA'}, lineStyle),
      Object.assign({label: 'b', data: specB, yAxisID: 'yB'}, lineStyle),
      Object.assign({label: 'c', data: specC, yAxisID: 'yC'}, lineStyle)
    ]
  },
  options: {
    responsive: false, animation: false, devicePixelRatio: 1, events: [],
    layout: {padding: {top: 6, right: 20, left: 0, bottom: 0}},
    plugins: {legend: {display: false}, tooltip: {enabled: false}},
    scales: {
      x: {type: 'linear', position: 'bottom', min: 0, max: 10,
        grid: {display: false, drawTicks: false}, border: {display: false},
        ticks: {stepSize: 2, autoSkip: false, maxRotation: 0, padding: 4, color: '#000',
          font: {family: FONT, size: 45}, callback: v => String(v)},
        afterFit: s => { s.height = 118; s.paddingLeft = 0; s.paddingRight = 0; s.paddingTop = 0; s.paddingBottom = 0; }},
      yC: yAxis(true),
      yB: yAxis(true),
      yA: yAxis(false)
    }
  },
  plugins: [decorPlugin]
});
</script>
</body></html>
